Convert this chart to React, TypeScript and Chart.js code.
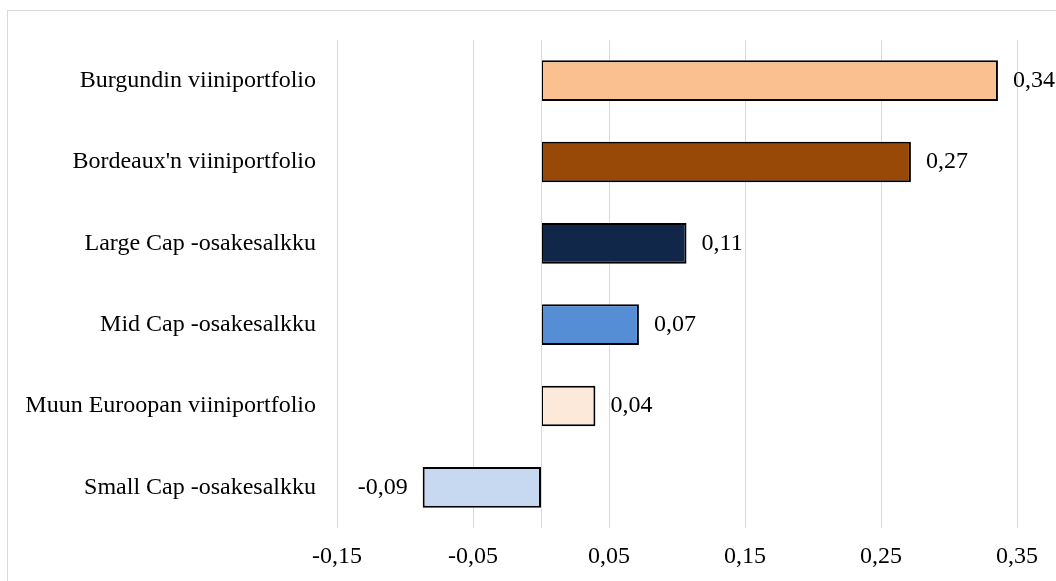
import React, { useEffect, useRef } from "react";
import { Chart, registerables } from "chart.js";

Chart.register(...registerables);

const CATEGORIES = [
  "Burgundin viiniportfolio",
  "Bordeaux'n viiniportfolio",
  "Large Cap -osakesalkku",
  "Mid Cap -osakesalkku",
  "Muun Euroopan viiniportfolio",
  "Small Cap -osakesalkku",
];
const VALUES = [0.336, 0.272, 0.107, 0.072, 0.04, -0.087];
const BAR_COLORS = ["#FAC090", "#984807", "#11274A", "#558ED5", "#FDE9D9", "#C6D9F1"];
const X_TICKS = [-0.15, -0.05, 0.05, 0.15, 0.25, 0.35];
const X_MIN = -0.15;
const X_MAX = 0.35;

const FONT_FAMILY = "'Liberation Serif', 'Times New Roman', serif";
const FONT_SIZE = 24;
const GRID = "#D9D9D9";

const fmt = (v: number) => Number(v).toFixed(2).replace(".", ",");

const framePlugin = {
  id: "frame",
  beforeDraw(chart: any) {
    const ctx = chart.ctx;
    ctx.save();
    ctx.strokeStyle = GRID;
    ctx.lineWidth = 1;
    ctx.strokeRect(7.5, 10.5, 2000, 2000);
    ctx.restore();
  },
};

const zeroLinePlugin = {
  id: "zeroLine",
  afterDatasetsDraw(chart: any) {
    const { ctx, chartArea, scales } = chart;
    const x = Math.round(scales.x.getPixelForValue(0)) + 0.5;
    ctx.save();
    ctx.strokeStyle = GRID;
    ctx.lineWidth = 1;
    ctx.beginPath();
    ctx.moveTo(x, chartArea.top);
    ctx.lineTo(x, chartArea.bottom);
    ctx.stroke();
    ctx.restore();
  },
};

const valueLabelPlugin = {
  id: "valueLabels",
  afterDraw(chart: any) {
    const { ctx } = chart;
    const meta = chart.getDatasetMeta(0);
    const data = chart.data.datasets[0].data as number[];
    ctx.save();
    ctx.font = `${FONT_SIZE}px ${FONT_FAMILY}`;
    ctx.fillStyle = "#000";
    ctx.textBaseline = "middle";
    meta.data.forEach((el: any, i: number) => {
      const v = data[i];
      const text = fmt(v);
      if (v >= 0) {
        ctx.textAlign = "left";
        ctx.fillText(text, el.x + 15, el.y);
      } else {
        ctx.textAlign = "right";
        ctx.fillText(text, el.x - 15, el.y);
      }
    });
    ctx.restore();
  },
};

export default function App() {
  const ref = useRef<HTMLCanvasElement | null>(null);

  useEffect(() => {
    if (!ref.current) return;
    const chart = new Chart(ref.current, {
      type: "bar",
      data: {
        labels: CATEGORIES,
        datasets: [
          {
            data: VALUES,
            backgroundColor: BAR_COLORS,
            borderColor: "#000",
            borderWidth: 2,
            borderSkipped: false,
            categoryPercentage: 1,
            barPercentage: 0.5,
          },
        ],
      },
      options: {
        indexAxis: "y",
        animation: false,
        responsive: false,
        maintainAspectRatio: false,
        layout: { padding: { top: 40, right: 39, bottom: 0, left: 0 } },
        plugins: {
          legend: { display: false },
          tooltip: { enabled: false },
          title: { display: false },
        },
        scales: {
          x: {
            type: "linear",
            min: X_MIN,
            max: X_MAX,
            afterBuildTicks: (scale: any) => {
              scale.ticks = X_TICKS.map((value) => ({ value }));
            },
            afterFit: (scale: any) => {
              scale.height = 53;
            },
            grid: { color: GRID, lineWidth: 1, drawTicks: false },
            border: { display: false },
            ticks: {
              padding: 14,
              color: "#000",
              font: { family: FONT_FAMILY, size: FONT_SIZE },
              callback: (v: any) => fmt(Number(v)),
              maxRotation: 0,
              autoSkip: false,
            },
          },
          y: {
            type: "category",
            afterFit: (scale: any) => {
              scale.width = 337;
            },
            grid: { display: false, drawTicks: false },
            border: { display: false },
            ticks: {
              padding: 21,
              color: "#000",
              font: { family: FONT_FAMILY, size: FONT_SIZE },
              autoSkip: false,
            },
          },
        },
      },
      plugins: [framePlugin, zeroLinePlugin, valueLabelPlugin],
    });
    return () => chart.destroy();
  }, []);

  return (
    <div style={{ position: "absolute", left: 0, top: 0, width: 1056, height: 581, background: "#fff" }}>
      <canvas ref={ref} width={1056} height={581} style={{ display: "block", width: 1056, height: 581 }} />
    </div>
  );
}
